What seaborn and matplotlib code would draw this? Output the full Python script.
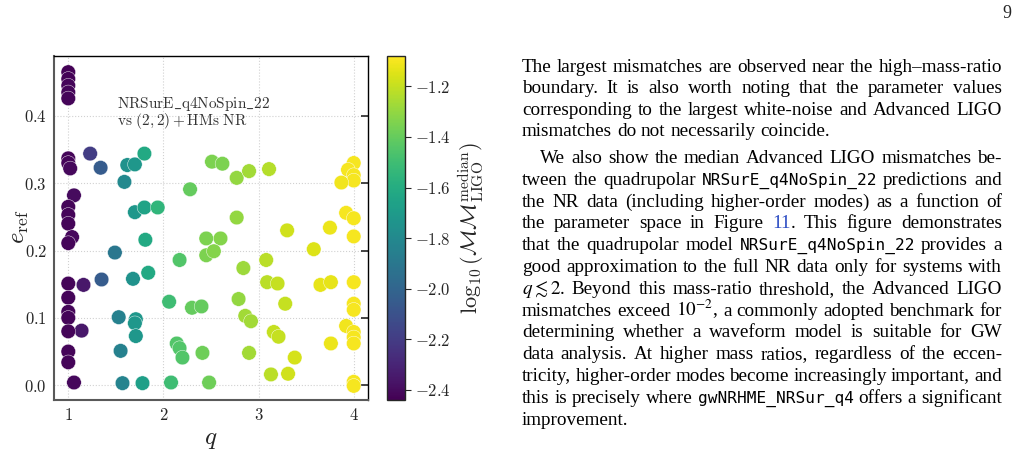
import pandas as pd
import matplotlib
matplotlib.use("Agg")
import matplotlib.pyplot as plt
import seaborn as sns

# mass ratio, eccentricity and median LIGO mismatch (log10)
q = [1.0, 1.0, 1.0, 1.0, 1.0,
     1.0, 1.0, 1.02, 1.23, 1.34,
     1.06, 1.0, 1.0, 1.0, 1.04, 1.0,
     1.0, 1.16, 1.0, 1.0, 1.0, 1.14, 1.0, 1.0, 1.0, 1.06,
     1.35, 1.49, 1.53, 1.55, 1.57, 1.59, 1.62, 1.70, 1.68, 1.70,
     1.71, 1.70, 1.71, 1.78, 1.80, 1.80, 1.81, 1.84, 1.94,
     2.06, 2.08, 2.14, 2.17, 2.20, 2.17, 2.28, 2.30, 2.40, 2.41,
     2.45, 2.45, 2.48, 2.51, 2.62, 2.60, 2.53, 2.77, 2.77, 2.79,
     2.84, 2.86, 2.92, 2.90, 2.90, 3.08, 3.09, 3.11, 3.13, 3.16,
     3.21, 3.20, 3.28, 3.30, 3.31, 3.38, 3.58, 3.65, 3.76, 3.75, 3.76,
     4.0, 3.94, 4.0, 4.0, 3.87, 3.92, 4.0, 4.0, 4.0, 4.0, 4.0,
     3.92, 4.0, 4.0, 4.0, 4.0, 4.0]
e_ref = [0.465, 0.455, 0.445, 0.435, 0.426,
         0.337, 0.330, 0.322, 0.344, 0.323,
         0.282, 0.265, 0.253, 0.240, 0.220, 0.211,
         0.151, 0.149, 0.130, 0.109, 0.100, 0.081, 0.080, 0.050, 0.034, 0.004,
         0.157, 0.197, 0.101, 0.051, 0.003, 0.302, 0.327, 0.328, 0.158, 0.257,
         0.098, 0.092, 0.073, 0.003, 0.344, 0.264, 0.216, 0.167, 0.264,
         0.124, 0.004, 0.062, 0.055, 0.041, 0.186, 0.291, 0.115, 0.117, 0.048,
         0.218, 0.193, 0.004, 0.332, 0.329, 0.218, 0.199, 0.308, 0.249, 0.128,
         0.174, 0.103, 0.095, 0.318, 0.048, 0.186, 0.153, 0.321, 0.016, 0.079,
         0.072, 0.151, 0.121, 0.230, 0.017, 0.041, 0.202, 0.149, 0.153, 0.234, 0.062,
         0.330, 0.320, 0.312, 0.304, 0.301, 0.256, 0.248, 0.221, 0.153, 0.121, 0.112,
         0.088, 0.079, 0.071, 0.062, 0.005, -0.001]
log_mm = [-2.43, -2.43, -2.42, -2.42, -2.42,
          -2.42, -2.42, -2.41, -2.20, -2.05,
          -2.40, -2.42, -2.42, -2.42, -2.41, -2.42,
          -2.42, -2.35, -2.42, -2.42, -2.42, -2.35, -2.42, -2.42, -2.42, -2.41,
          -2.05, -1.90, -1.85, -1.85, -1.83, -1.80, -1.75, -1.72, -1.75, -1.72,
          -1.72, -1.72, -1.72, -1.68, -1.62, -1.65, -1.62, -1.62, -1.55,
          -1.50, -1.50, -1.45, -1.45, -1.45, -1.45, -1.40, -1.40, -1.40, -1.38,
          -1.35, -1.35, -1.38, -1.35, -1.35, -1.33, -1.33, -1.30, -1.30, -1.30,
          -1.28, -1.27, -1.27, -1.27, -1.27, -1.22, -1.22, -1.23, -1.22, -1.20,
          -1.20, -1.20, -1.20, -1.18, -1.18, -1.17, -1.15, -1.13, -1.13, -1.12, -1.12,
          -1.10, -1.10, -1.10, -1.10, -1.11, -1.10, -1.10, -1.10, -1.10, -1.10, -1.10,
          -1.11, -1.10, -1.10, -1.10, -1.10, -1.10]
cbar_ticks = [-2.4, -2.2, -2.0, -1.8, -1.6, -1.4, -1.2]
VMIN, VMAX = -2.44, -1.08

# text column on the right of the page
para_lines = [
    "The largest mismatches are observed near the high\u2013mass-ratio",
    "boundary. It is also worth noting that the parameter values",
    "corresponding to the largest white-noise and Advanced LIGO",
    "mismatches do not necessarily coincide.",
    "We also show the median Advanced LIGO mismatches be-",
    "tween the quadrupolar `NRSurE_q4NoSpin_22 predictions and",
    "the NR data (including higher-order modes) as a function of",
    "the parameter space in Figure #11|. This figure demonstrates",
    "that the quadrupolar model `NRSurE_q4NoSpin_22 provides a",
    "good approximation to the full NR data only for systems with",
    "$q\\lesssim2$. Beyond this mass-ratio threshold, the Advanced LIGO",
    "mismatches exceed $10^{-2}$, a commonly adopted benchmark for",
    "determining whether a waveform model is suitable for GW",
    "data analysis. At higher mass ratios, regardless of the eccen-",
    "tricity, higher-order modes become increasingly important, and",
    "this is precisely where `gwNRHME_NRSur_q4 offers a significant",
    "improvement.",
]

sns.set_style("white")
plt.rcParams.update({
    "font.family": ["cmr10"],
    "mathtext.fontset": "cm",
    "axes.formatter.use_mathtext": True,
    "axes.unicode_minus": True,
})

W, H = 1021, 455
fig = plt.figure(figsize=(W / 100, H / 100), dpi=100)
ax = fig.add_axes([54 / W, 1 - 400 / H, 314 / W, 344 / H])
cax = fig.add_axes([387 / W, 1 - 400 / H, 18 / W, 344 / H])

df = pd.DataFrame({"q": q, "e_ref": e_ref, "log_mm": log_mm})
sns.scatterplot(data=df, x="q", y="e_ref", hue="log_mm", palette="viridis",
                hue_norm=(VMIN, VMAX), s=110, edgecolor="white", linewidth=0.3,
                legend=False, ax=ax, zorder=3)

ax.set_xlim(0.85, 4.15)
ax.set_ylim(-0.022, 0.489)
ax.set_xticks([1, 2, 3, 4])
ax.set_yticks([0.0, 0.1, 0.2, 0.3, 0.4])
ax.grid(True, ls=":", color="0.82", lw=0.8)
ax.tick_params(direction="in", length=5, width=1.2, right=True, top=False,
               labelsize=12, pad=5)
for side in ["left", "bottom"]:
    ax.spines[side].set_color("0.35")
    ax.spines[side].set_linewidth(1.5)
for side in ["top", "right"]:
    ax.spines[side].set_color("black")
    ax.spines[side].set_linewidth(1.0)
ax.set_xlabel(r"$q$", fontsize=18, labelpad=4)
ax.set_ylabel(r"$e_{\rm ref}$", fontsize=18)
ax.yaxis.set_label_coords(-0.072, 0.505)
ax.text(0.2, 0.85, r"$\mathrm{NRSurE\_q4NoSpin\_22}$", transform=ax.transAxes,
        fontsize=11, color="0.2")
ax.text(0.2, 0.80, r"$\mathrm{vs}\ (2,2)+\mathrm{HMs\ NR}$", transform=ax.transAxes,
        fontsize=11, color="0.2")

sm = plt.cm.ScalarMappable(norm=plt.Normalize(VMIN, VMAX), cmap="viridis")
cb = fig.colorbar(sm, cax=cax)
cb.set_ticks(cbar_ticks)
cb.ax.tick_params(labelsize=12, length=4)
cb.outline.set_linewidth(1.0)
cb.set_label(r"$\log_{10}(\mathcal{MM}^{\rm median}_{\rm LIGO})$", fontsize=16, labelpad=4)

# page text, justified line by line
FS = 13.8
FS_MONO = 11.6
renderer = fig.canvas.get_renderer()
x_left, x_right = 522, 1002


def seg_text(s, x, y):
    kw = dict(fontsize=FS, family="Liberation Serif", math_fontfamily="stix",
              color="black", va="baseline", ha="left")
    if s.startswith("`"):
        s = s[1:]
        kw.update(family="DejaVu Sans Mono", fontsize=FS_MONO)
    elif s.startswith("#"):
        s = s[1:]
        kw.update(color="#2f4fc4")
    t = fig.text(x / W, 1 - y / H, s, **kw)
    return t, t.get_window_extent(renderer=renderer).width


baselines = [72 + 21.4 * i for i in range(4)] + [163 + 21.8 * i for i in range(13)]
for i, line in enumerate(para_lines):
    y = baselines[i]
    x0 = x_left + (18 if i == 4 else 0)
    words = []
    for w in line.split(" "):
        segs = [seg_text(s, 0, y) for s in w.split("|")]
        words.append(segs)
    widths = [sum(sw for _, sw in segs) for segs in words]
    if i in (3, 16):
        gap = 0.25 * FS * 100 / 72
    else:
        gap = max((x_right - x0 - sum(widths)) / (len(words) - 1), 2.0)
    x = x0
    for segs, wd in zip(words, widths):
        xs = x
        for t, sw in segs:
            t.set_x(xs / W)
            xs += sw
        x += wd + gap

fig.text(1007 / W, 1 - 18 / H, "9", fontsize=13, family="Liberation Serif",
         ha="center", va="baseline")

fig.savefig("out.png", dpi=100)
